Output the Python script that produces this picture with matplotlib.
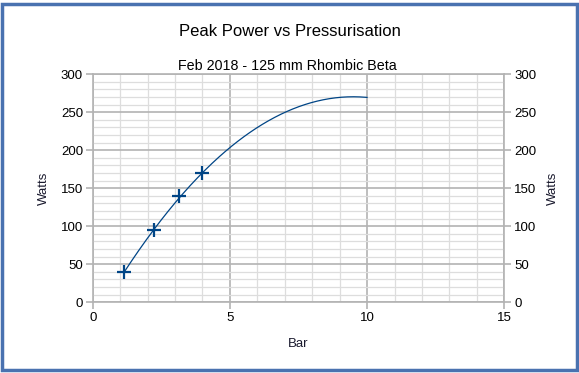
import numpy as np
import matplotlib.pyplot as plt
from matplotlib.patches import Rectangle
from matplotlib.ticker import MultipleLocator

plt.rcParams['font.family'] = ['Liberation Sans', 'DejaVu Sans']

# === data ===
bar = [1.15, 2.25, 3.15, 4.0]
watts = [40.5, 94.5, 139.5, 169.5]
trend_end = 10

title = "Peak Power vs Pressurisation"
subtitle = "Feb 2018 - 125 mm Rhombic Beta"

blue = '#004586'
grid_major = '#b3b3b3'
grid_minor = '#dddddd'
label_col = '#1a1a2e'

fig = plt.figure(figsize=(5.79, 3.73), dpi=100)
ax = fig.add_axes([0.1601, 0.1895, 0.7109, 0.6118])

# polynomial trend line (degree 2), drawn from first point out to x=10
coef = np.polyfit(bar, watts, 2)
xs = np.linspace(bar[0], trend_end, 200)
ax.plot(xs, np.polyval(coef, xs), color=blue, lw=0.9, zorder=3)
ax.plot(bar, watts, ls='none', marker='+', ms=10, mew=1.6, color=blue, zorder=4)

ax.set_xlim(0, 15)
ax.set_ylim(0, 300)
ax.xaxis.set_major_locator(MultipleLocator(5))
ax.xaxis.set_minor_locator(MultipleLocator(1))
ax.yaxis.set_major_locator(MultipleLocator(50))
ax.yaxis.set_minor_locator(MultipleLocator(10))
ax.grid(which='minor', color=grid_minor, lw=0.9)
ax.grid(which='major', color=grid_major, lw=1.2)
ax.set_axisbelow(True)
for s in ax.spines.values():
    s.set_color(grid_major)
    s.set_linewidth(1.2)
ax.tick_params(which='major', length=5, color=grid_major, width=1.2, labelsize=9.5, pad=2)
ax.tick_params(which='minor', length=0)
ax.tick_params(axis='y', right=True, labelright=True)

ax.set_xlabel("Bar", fontsize=9.5, labelpad=10, color=label_col)
ax.set_ylabel("Watts", fontsize=9.5, labelpad=8, color=label_col)
ax2 = ax.secondary_yaxis('right')
ax2.yaxis.set_major_locator(MultipleLocator(50))
ax2.tick_params(length=0, labelsize=9.5, labelright=False)
ax2.spines['right'].set_visible(False)
ax2.set_ylabel("Watts", fontsize=9.5, labelpad=31, color=label_col)

fig.text(0.5, 0.9043, title, ha='center', va='baseline', fontsize=12)
fig.text(0.497, 0.8123, subtitle, ha='center', va='baseline', fontsize=10.3)

# chart frame
fig.patches.append(Rectangle((0.003, 0.007), 0.994, 0.982, transform=fig.transFigure,
                             fill=False, ec='#4a72b0', lw=2.5))

fig.savefig('out.png', dpi=100)
